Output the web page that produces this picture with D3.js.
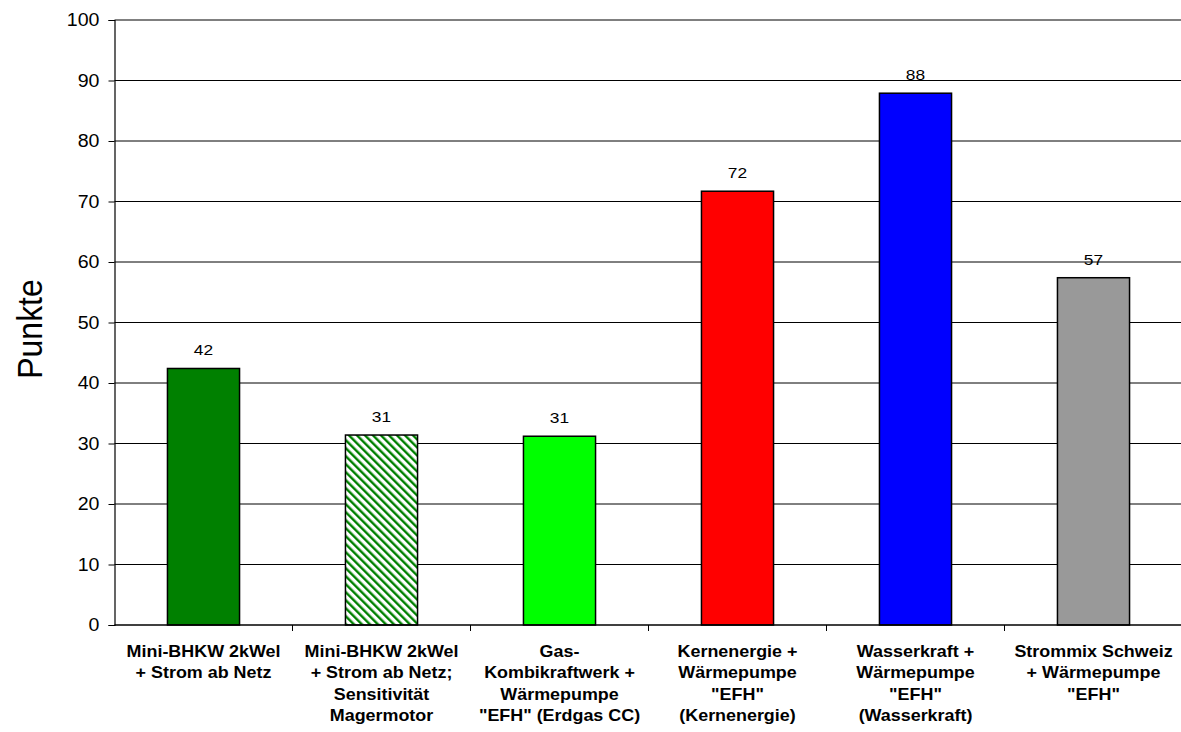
<!DOCTYPE html>
<html>
<head>
<meta charset="utf-8">
<script src="https://cdn.jsdelivr.net/npm/d3@7"></script>
<style>
  body { margin: 0; background: #fff; }
  svg { display: block; font-family: Arial, "Liberation Sans", sans-serif; }
</style>
</head>
<body>
<div id="chart"></div>
<script>
// data
var categories = ['bhkw', 'bhkwMager', 'gascc', 'kern', 'wasser', 'mix'];
var labelLines = [
    ['Mini-BHKW 2kWel', '+ Strom ab Netz'],
    ['Mini-BHKW 2kWel', '+ Strom ab Netz;', 'Sensitivität', 'Magermotor'],
    ['Gas-', 'Kombikraftwerk +', 'Wärmepumpe', '"EFH" (Erdgas CC)'],
    ['Kernenergie +', 'Wärmepumpe', '"EFH"', '(Kernenergie)'],
    ['Wasserkraft +', 'Wärmepumpe', '"EFH"', '(Wasserkraft)'],
    ['Strommix Schweiz', '+ Wärmepumpe', '"EFH"']
];
var values = [42.4, 31.4, 31.2, 71.7, 87.9, 57.4];
var fills = ['#008000', 'url(#hatch)', '#00ff00', '#ff0000', '#0000ff', '#999999'];
var yTicks = [0, 10, 20, 30, 40, 50, 60, 70, 80, 90, 100];

var W = 1181, H = 732;
var margin = {top: 20, left: 114.5, bottom: 107};
var plotRight = 114.5 + 6 * 178;
var sx = 1.12; // horizontal stretch of the text

var svg = d3.select('#chart').append('svg')
    .attr('width', W)
    .attr('height', H);

var defs = svg.append('defs');
var hatch = defs.append('pattern')
    .attr('id', 'hatch')
    .attr('patternUnits', 'userSpaceOnUse')
    .attr('width', 5.66)
    .attr('height', 10)
    .attr('patternTransform', 'rotate(-45)');
hatch.append('rect').attr('width', 5.66).attr('height', 10).attr('fill', '#fff');
hatch.append('rect').attr('width', 2.4).attr('height', 10).attr('fill', '#008000');

var x = d3.scaleBand()
    .domain(categories)
    .range([margin.left, plotRight])
    .paddingInner(0.595)
    .paddingOuter(0.2975);

var y = d3.scaleLinear()
    .domain([0, 100])
    .range([H - margin.bottom, margin.top]);

var step = x.step();

// gridlines
svg.append('g')
    .selectAll('line')
    .data(yTicks.filter(d => d > 0))
    .join('line')
    .attr('x1', margin.left)
    .attr('x2', plotRight)
    .attr('y1', d => y(d))
    .attr('y2', d => y(d))
    .attr('stroke', '#000')
    .attr('stroke-width', 1);

// y axis
var yAxis = svg.append('g')
    .attr('transform', 'translate(' + margin.left + ',0)')
    .call(d3.axisLeft(y).tickValues(yTicks).tickSize(6).tickPadding(9))
yAxis.select('.domain').attr('stroke', '#000').attr('stroke-width', 1.2);
yAxis.selectAll('.tick line').attr('stroke', '#000');
yAxis.selectAll('.tick text')
    .attr('font-size', '17.5px')
    .attr('fill', '#000')
    .attr('font-family', 'Arial, "Liberation Sans", sans-serif')
    .each(function() {
        var t = d3.select(this);
        var xx = +t.attr('x');
        t.attr('x', null)
         .attr('transform', 'translate(' + xx + ',0) scale(' + sx + ',1)');
    });

// bars
svg.append('g')
    .selectAll('rect')
    .data(categories)
    .join('rect')
    .attr('x', d => x(d))
    .attr('width', x.bandwidth())
    .attr('y', (d, i) => y(values[i]))
    .attr('height', (d, i) => y(0) - y(values[i]))
    .attr('fill', (d, i) => fills[i])
    .attr('stroke', '#000')
    .attr('stroke-width', 1.5);

// value labels
svg.append('g')
    .selectAll('text')
    .data(categories)
    .join('text')
    .attr('transform', (d, i) => 'translate(' + (x(d) + x.bandwidth() / 2) + ',' + (y(values[i]) - 13) + ') scale(' + sx + ',1)')
    .attr('text-anchor', 'middle')
    .attr('font-size', '15.5px')
    .attr('fill', '#000')
    .text((d, i) => Math.round(values[i]));

// x axis
svg.append('line')
    .attr('x1', margin.left)
    .attr('x2', plotRight)
    .attr('y1', y(0))
    .attr('y2', y(0))
    .attr('stroke', '#000')
    .attr('stroke-width', 1.5);

svg.append('g')
    .selectAll('line')
    .data(categories)
    .join('line')
    .attr('x1', d => x(d) - step * x.paddingInner() / 2 + step)
    .attr('x2', d => x(d) - step * x.paddingInner() / 2 + step)
    .attr('y1', y(0))
    .attr('y2', y(0) + 6)
    .attr('stroke', '#000');

// category labels
var lab = svg.append('g')
    .selectAll('text')
    .data(categories)
    .join('text')
    .attr('transform', d => 'translate(' + (x(d) + x.bandwidth() / 2) + ',657) scale(' + sx + ',1)')
    .attr('text-anchor', 'middle')
    .attr('font-size', '16px')
    .attr('font-weight', 'bold')
    .attr('fill', '#000');

lab.selectAll('tspan')
    .data((d, i) => labelLines[i])
    .join('tspan')
    .attr('x', 0)
    .attr('y', (d, i) => i * 21.3)
    .text(d => d);

// y title
svg.append('text')
    .attr('transform', 'translate(42,329) scale(' + sx + ',1) rotate(-90)')
    .attr('text-anchor', 'middle')
    .attr('font-size', '32px')
    .attr('fill', '#000')
    .text('Punkte');
</script>
</body>
</html>
